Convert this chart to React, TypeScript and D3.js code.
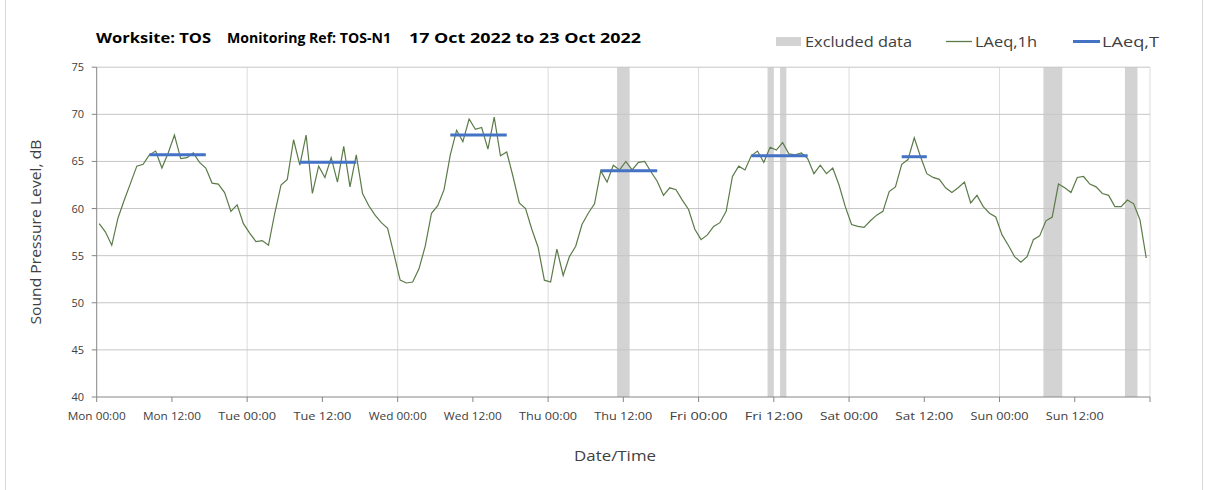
import React from "react";
import * as d3 from "d3";

// Hourly LAeq,1h values, Mon 00:00 .. Sun 23:00 (168 hours)
const laeq1h: number[] = [
  // Mon
  58.4, 57.5, 56.1, 59.0, 60.9, 62.7, 64.5, 64.7, 65.7, 66.1, 64.3, 65.9,
  67.8, 65.3, 65.4, 65.9, 64.9, 64.3, 62.7, 62.6, 61.7, 59.7, 60.4, 58.4,
  // Tue
  57.4, 56.5, 56.6, 56.1, 59.5, 62.5, 63.1, 67.3, 64.6, 67.8, 61.6, 64.5,
  63.3, 65.4, 62.8, 66.6, 62.3, 65.7, 61.6, 60.3, 59.3, 58.5, 57.9, 55.2,
  // Wed
  52.4, 52.1, 52.2, 53.6, 56.0, 59.5, 60.3, 62.0, 65.7, 68.3, 67.1, 69.5,
  68.4, 68.6, 66.3, 69.7, 65.6, 66.0, 63.4, 60.6, 60.0, 57.8, 55.9, 52.4,
  // Thu
  52.2, 55.7, 52.9, 54.9, 56.0, 58.3, 59.5, 60.5, 64.0, 62.8, 64.6, 64.1,
  65.0, 64.1, 64.9, 65.0, 63.9, 62.9, 61.4, 62.2, 62.0, 60.9, 59.9, 57.8,
  // Fri
  56.7, 57.2, 58.1, 58.5, 59.7, 63.4, 64.5, 64.1, 65.6, 66.1, 64.9, 66.5,
  66.2, 67.0, 65.8, 65.7, 65.9, 65.3, 63.7, 64.6, 63.7, 64.3, 62.5, 60.2,
  // Sat
  58.3, 58.1, 58.0, 58.7, 59.3, 59.7, 61.8, 62.3, 64.7, 65.2, 67.5, 65.5,
  63.7, 63.3, 63.1, 62.2, 61.7, 62.2, 62.8, 60.6, 61.4, 60.2, 59.5, 59.1,
  // Sun
  57.2, 56.1, 54.9, 54.3, 54.9, 56.7, 57.1, 58.7, 59.1, 62.6, 62.2, 61.7,
  63.3, 63.4, 62.6, 62.3, 61.6, 61.4, 60.2, 60.2, 60.9, 60.5, 58.8, 54.75,
];

// Daytime LAeq,T periods: start hour, end hour, level
const laeqTStart: number[] = [8, 32, 56, 80, 104, 128];
const laeqTEnd: number[] = [17, 41, 65, 89, 113, 132];
const laeqTValue: number[] = [65.7, 64.9, 67.8, 64.0, 65.6, 65.5];

// Excluded data periods (hours from Mon 00:00)
const excludedStart: number[] = [83, 107, 109, 151, 164];
const excludedEnd: number[] = [85, 108, 110, 154, 166];

const xTickLabels: string[] = [
  "Mon 00:00", "Mon 12:00", "Tue 00:00", "Tue 12:00", "Wed 00:00", "Wed 12:00",
  "Thu 00:00", "Thu 12:00", "Fri 00:00", "Fri 12:00", "Sat 00:00", "Sat 12:00",
  "Sun 00:00", "Sun 12:00",
];
const yTicks: number[] = [40, 45, 50, 55, 60, 65, 70, 75];

const FONT = "'Open Sans', Lato, sans-serif";
const TEXT = "#404040";
const OFFSET = 0.4; // hourly points plotted slightly after the hour

export default function App() {
  const W = 1208, H = 490;
  const left = 96.7, right = 1150, top = 67.2, bottom = 397;
  const x = d3.scaleLinear().domain([0, 168]).range([left, right]);
  const y = d3.scaleLinear().domain([40, 75]).range([bottom, top]);

  const line = d3
    .line<number>()
    .x((_, i) => x(i + OFFSET))
    .y((d) => y(d));

  const xTicks = d3.range(0, 168, 12);
  const dayLines = d3.range(24, 169, 24);

  return (
    <svg
      width={W}
      height={H}
      style={{ position: "absolute", left: 0, top: 0, background: "#fff" }}
      fontFamily={FONT}
    >
      {/* outer border */}
      <line x1={5.5} x2={5.5} y1={0} y2={H} stroke="#d9d9d9" />
      <line x1={1202.5} x2={1202.5} y1={0} y2={H} stroke="#d9d9d9" />

      {/* title */}
      <g fontWeight="bold" fontSize={15} fill="#000">
        <text x={96} y={43} textLength={115} lengthAdjust="spacingAndGlyphs">Worksite: TOS</text>
        <text x={227} y={43} textLength={164} lengthAdjust="spacingAndGlyphs">Monitoring Ref: TOS-N1</text>
        <text x={409} y={43} textLength={232} lengthAdjust="spacingAndGlyphs">17 Oct 2022 to 23 Oct 2022</text>
      </g>

      {/* legend */}
      <g fontSize={15} fill={TEXT}>
        <rect x={776} y={37} width={25} height={9} fill="#d3d3d3" />
        <text x={805} y={47} textLength={107} lengthAdjust="spacingAndGlyphs">Excluded data</text>
        <line x1={946} x2={972} y1={41.5} y2={41.5} stroke="#5b7b48" strokeWidth={1.3} />
        <text x={975} y={47} textLength={62} lengthAdjust="spacingAndGlyphs">LAeq,1h</text>
        <line x1={1073} x2={1100} y1={41.5} y2={41.5} stroke="#4472c4" strokeWidth={3} />
        <text x={1102} y={47} textLength={57} lengthAdjust="spacingAndGlyphs">LAeq,T</text>
      </g>

      {/* excluded bands */}
      {excludedStart.map((s, i) => (
        <rect
          key={"ex" + i}
          x={x(s)}
          y={top}
          width={x(excludedEnd[i]) - x(s)}
          height={bottom - top}
          fill="#d3d3d3"
        />
      ))}

      {/* vertical day gridlines */}
      {dayLines.map((d) => (
        <line key={"v" + d} x1={x(d)} x2={x(d)} y1={top} y2={bottom} stroke="#dcdcdc" />
      ))}

      {/* horizontal gridlines */}
      {yTicks.slice(1).map((t) => (
        <line key={"h" + t} x1={left} x2={right} y1={y(t)} y2={y(t)} stroke="#c6c6c6" />
      ))}

      {/* axes */}
      <line x1={left} x2={left} y1={top} y2={bottom} stroke="#868686" />
      <line x1={left} x2={right} y1={bottom} y2={bottom} stroke="#868686" />
      {yTicks.map((t) => (
        <g key={"yt" + t}>
          <line x1={left - 5} x2={left} y1={y(t)} y2={y(t)} stroke="#868686" />
          <text x={84} y={y(t) + 4} textAnchor="end" fontSize={11} fill={TEXT}>
            {t}
          </text>
        </g>
      ))}
      {xTicks.map((t, i) => (
        <g key={"xt" + t}>
          <line x1={x(t)} x2={x(t)} y1={bottom} y2={bottom + 5} stroke="#868686" />
          <text x={x(t)} y={420} textAnchor="middle" fontSize={11} fill={TEXT}
            textLength={58} lengthAdjust="spacingAndGlyphs">
            {xTickLabels[i]}
          </text>
        </g>
      ))}
      <line x1={right} x2={right} y1={bottom} y2={bottom + 5} stroke="#868686" />

      {/* LAeq,1h */}
      <path d={line(laeq1h) || ""} fill="none" stroke="#5b7b48" strokeWidth={1.2} />

      {/* LAeq,T */}
      {laeqTStart.map((s, i) => (
        <line
          key={"t" + i}
          x1={x(s + OFFSET)}
          x2={x(laeqTEnd[i] + OFFSET)}
          y1={y(laeqTValue[i])}
          y2={y(laeqTValue[i])}
          stroke="#4472c4"
          strokeWidth={3}
        />
      ))}

      {/* axis titles */}
      <text
        transform={`translate(41, ${(top + bottom) / 2}) rotate(-90)`}
        textAnchor="middle"
        fontSize={15}
        fill={TEXT}
        textLength={185}
        lengthAdjust="spacingAndGlyphs"
      >
        Sound Pressure Level, dB
      </text>
      <text x={615} y={461} textAnchor="middle" fontSize={15} fill={TEXT}
        textLength={82} lengthAdjust="spacingAndGlyphs">
        Date/Time
      </text>
    </svg>
  );
}
